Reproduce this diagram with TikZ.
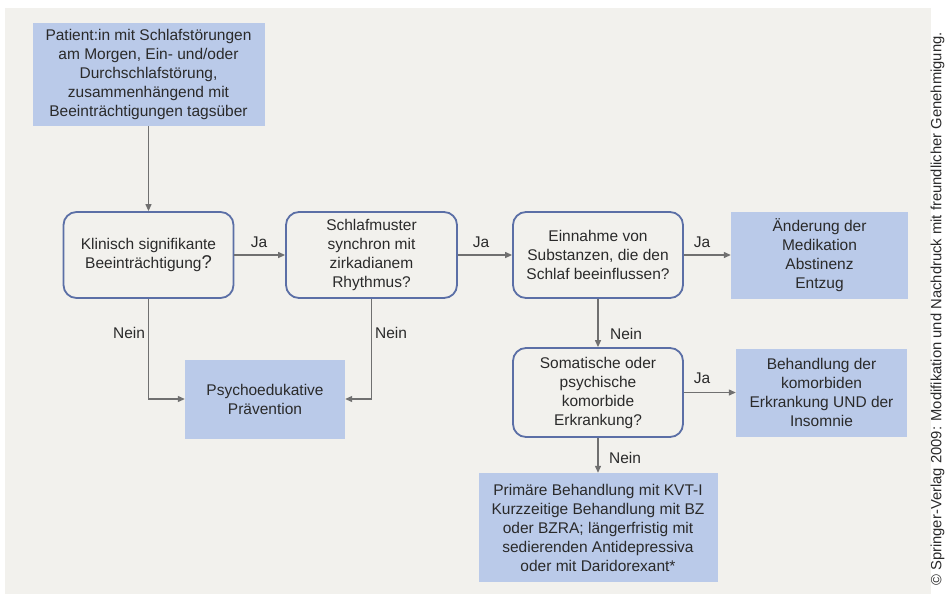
\documentclass[tikz,border=0pt]{standalone}
\usepackage{fontspec}
\setmainfont{Liberation Sans}
\usetikzlibrary{arrows.meta}
\definecolor{bgc}{HTML}{F2F1ED}
\definecolor{bluef}{HTML}{BACAE9}
\definecolor{edgeb}{HTML}{5B6FA6}
\definecolor{arr}{HTML}{707070}
\definecolor{txt}{HTML}{2A2A2A}
\tikzset{
  boxtext/.style={align=center, text=txt, inner sep=0pt, font=\fontsize{15.5}{19}\selectfont},
  bluebox/.style={boxtext, fill=bluef, draw=none},
  qbox/.style={boxtext, draw=edgeb, line width=1.8pt, rounded corners=13pt, fill=bgc},
  conn/.style={draw=arr, line width=1.2pt, -{Triangle[length=7pt,width=6pt]}},
  lbl/.style={text=txt, inner sep=0pt, font=\fontsize{15.5}{17}\selectfont},
}
\begin{document}
\begin{tikzpicture}[x=1pt,y=-1pt]
\useasboundingbox (0,0) rectangle (945,598);
\fill[bgc] (5,8) rectangle (931,594);

\node[bluebox, minimum width=232pt, minimum height=103pt] (top) at (148.5,74.5)
  {Patient:in mit Schlafstörungen\\am Morgen, Ein- und/oder\\Durchschlafstörung,\\zusammenhängend mit\\Beeinträchtigungen tagsüber};

\node[qbox, minimum width=170pt, minimum height=86pt] (A) at (148.5,255)
  {Klinisch signifikante\\Beeinträchtigung{\fontsize{18.5}{19}\selectfont ?}};
\node[qbox, minimum width=171pt, minimum height=86pt] (B) at (371.5,255)
  {Schlafmuster\\synchron mit\\zirkadianem\\Rhythmus?};
\node[qbox, minimum width=170pt, minimum height=86pt] (C) at (598,255)
  {Einnahme von\\Substanzen, die den\\Schlaf beeinflussen?};
\node[bluebox, minimum width=177pt, minimum height=87pt] (D) at (819.5,255)
  {Änderung der\\Medikation\\Abstinenz\\Entzug};

\node[qbox, minimum width=170pt, minimum height=89pt] (E) at (598,392.5)
  {Somatische oder\\psychische\\komorbide\\Erkrankung?};
\node[bluebox, minimum width=171pt, minimum height=88pt] (F) at (821.5,392.5)
  {Behandlung der\\komorbiden\\Erkrankung UND der\\Insomnie};

\node[bluebox, minimum width=160pt, minimum height=79pt] (P) at (265,399)
  {Psychoedukative\\Prävention};

\node[bluebox, minimum width=239pt, minimum height=109pt] (G) at (598,527.5)
  {Primäre Behandlung mit KVT-I\\Kurzzeitige Behandlung mit BZ\\oder BZRA; längerfristig mit\\sedierenden Antidepressiva\\oder mit Daridorexant*};

\draw[conn] (top) -- (A);
\draw[conn] (A) -- (B);
\draw[conn] (B) -- (C);
\draw[conn] (C) -- (D);
\draw[conn] (C) -- (E);
\draw[conn] (E) -- (F);
\draw[conn] (E) -- (G);
\draw[conn] (A.south) |- (P.west);
\draw[conn] (B.south) |- (P.east);

\node[lbl] (ja1) at (259,242) {Ja};
\node[lbl] (ja2) at (481,242) {Ja};
\node[lbl] (ja3) at (702,242) {Ja};
\node[lbl] (ja4) at (702,378) {Ja};
\node[lbl] (n1) at (129,333) {Nein};
\node[lbl] (n2) at (391,333) {Nein};
\node[lbl] (n3) at (626,334) {Nein};
\node[lbl] (n4) at (625,458) {Nein};

\node[rotate=90, text=txt, inner sep=0pt, font=\fontsize{14.8}{16}\selectfont] (copy) at (937.5,309)
  {© Springer-Verlag 2009: Modifikation und Nachdruck mit freundlicher Genehmigung.};
\end{tikzpicture}
\end{document}
